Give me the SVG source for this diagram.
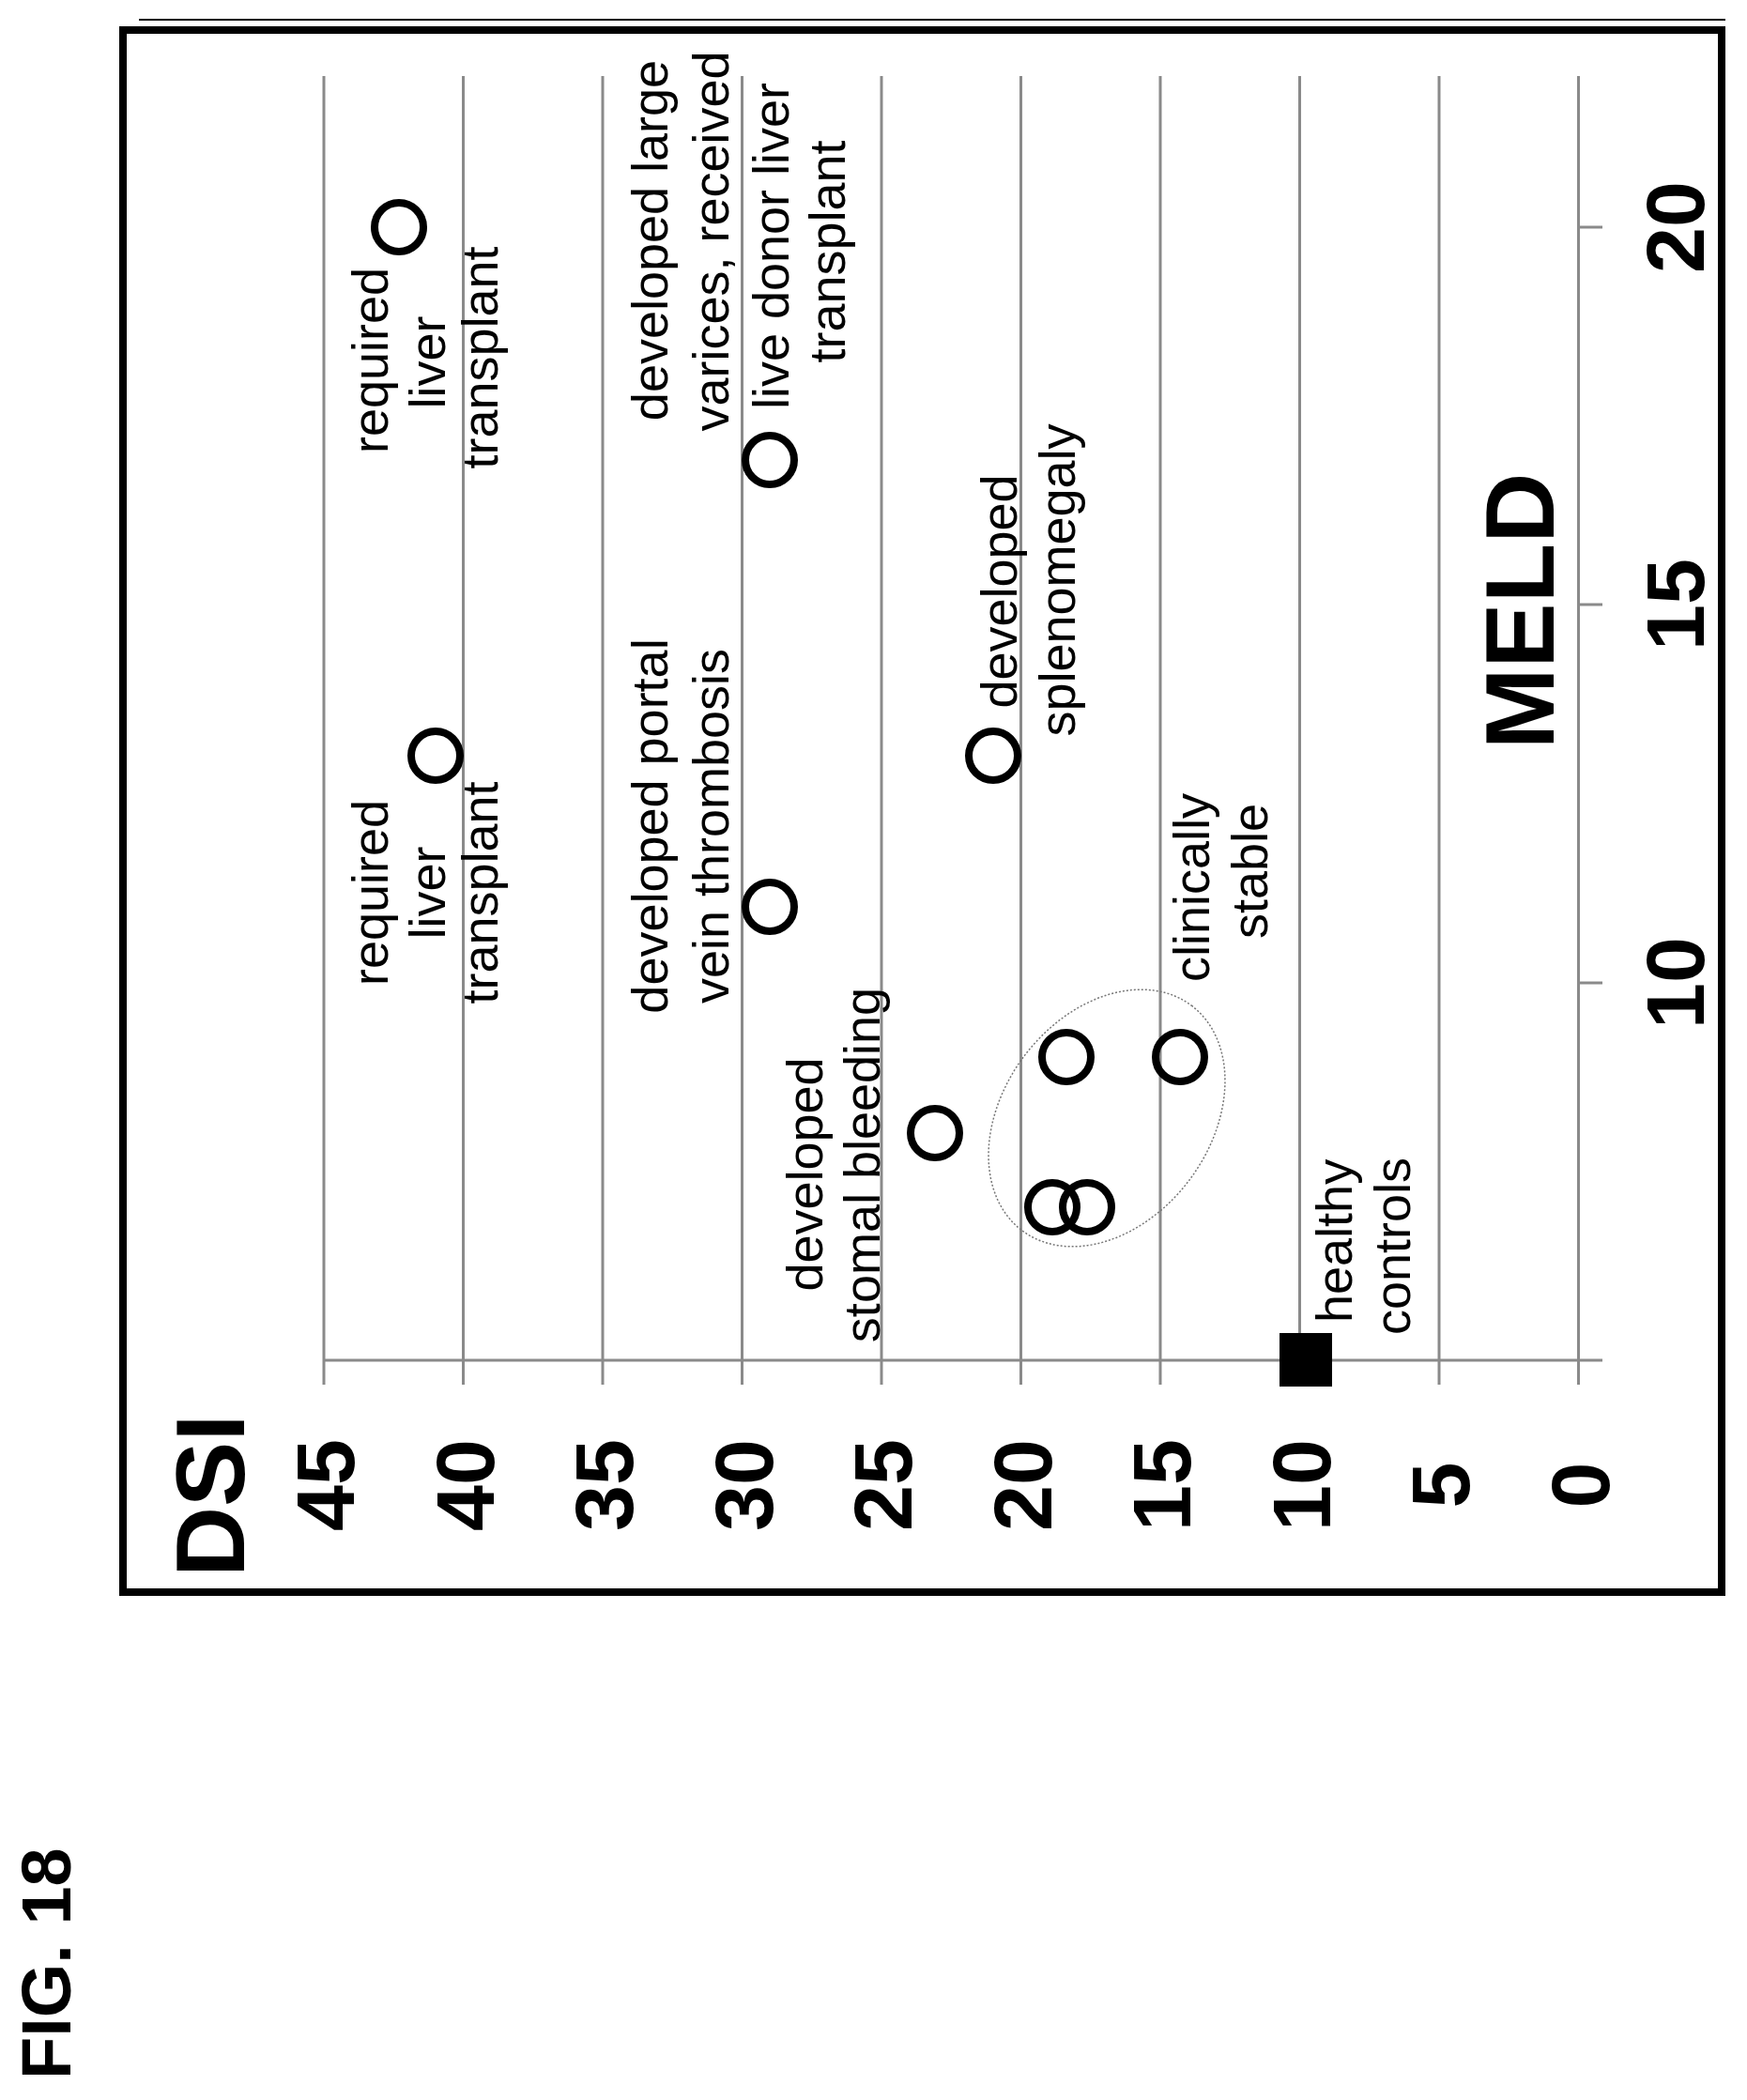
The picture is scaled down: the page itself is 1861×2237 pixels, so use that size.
<svg xmlns="http://www.w3.org/2000/svg" width="1861" height="2237" viewBox="0 0 1861 2237">
<style>
.g{stroke:#8a8a8a;stroke-width:3;fill:none}
.pt{fill:none;stroke:#000;stroke-width:8}
.lb{font-family:"Liberation Sans",Arial,sans-serif;font-size:54px;fill:#000;text-anchor:middle}
.st{text-anchor:start}
.tk{font-family:"Liberation Sans",Arial,sans-serif;font-size:88px;font-weight:bold;fill:#000;text-anchor:middle}
.ax{font-family:"Liberation Sans",Arial,sans-serif;font-size:104px;font-weight:bold;fill:#000}
</style>
<rect width="1861" height="2237" fill="#fff"/>
<line x1="148" y1="21" x2="1838" y2="21" stroke="#000" stroke-width="2"/>
<rect x="131" y="32" width="1703" height="1664" fill="none" stroke="#000" stroke-width="8"/>
<g id="grid">
<line class="g" x1="345" y1="81" x2="345" y2="1475"/>
<line class="g" x1="493.5" y1="81" x2="493.5" y2="1475"/>
<line class="g" x1="642" y1="81" x2="642" y2="1475"/>
<line class="g" x1="790.5" y1="81" x2="790.5" y2="1475"/>
<line class="g" x1="939" y1="81" x2="939" y2="1475"/>
<line class="g" x1="1087.5" y1="81" x2="1087.5" y2="1475"/>
<line class="g" x1="1236" y1="81" x2="1236" y2="1475"/>
<line class="g" x1="1384.5" y1="81" x2="1384.5" y2="1475"/>
<line class="g" x1="1533" y1="81" x2="1533" y2="1475"/>
<line class="g" x1="1681.5" y1="81" x2="1681.5" y2="1475"/>
<line class="g" x1="345" y1="1449" x2="1707" y2="1449"/>
<line class="g" x1="1681.5" y1="1047" x2="1707" y2="1047"/>
<line class="g" x1="1681.5" y1="644" x2="1707" y2="644"/>
<line class="g" x1="1681.5" y1="242" x2="1707" y2="242"/>
</g>
<g id="dsi-ticks">
<text class="tk" transform="translate(377,1582) rotate(-90)">45</text>
<text class="tk" transform="translate(525.5,1582) rotate(-90)">40</text>
<text class="tk" transform="translate(674,1582) rotate(-90)">35</text>
<text class="tk" transform="translate(822.5,1582) rotate(-90)">30</text>
<text class="tk" transform="translate(971,1582) rotate(-90)">25</text>
<text class="tk" transform="translate(1119.5,1582) rotate(-90)">20</text>
<text class="tk" transform="translate(1268,1582) rotate(-90)">15</text>
<text class="tk" transform="translate(1416.5,1582) rotate(-90)">10</text>
<text class="tk" transform="translate(1565,1582) rotate(-90)">5</text>
<text class="tk" transform="translate(1713.5,1582) rotate(-90)">0</text>
<text class="ax" transform="translate(260,1680) rotate(-90)">DSI</text>
</g>
<g id="meld-ticks">
<text class="tk" transform="translate(1815,1047) rotate(-90)">10</text>
<text class="tk" transform="translate(1815,644) rotate(-90)">15</text>
<text class="tk" transform="translate(1815,242) rotate(-90)">20</text>
<text class="ax" transform="translate(1655,651) rotate(-90)" text-anchor="middle">MELD</text>
</g>
<g id="points">
<circle class="pt" cx="425" cy="242" r="26"/>
<circle class="pt" cx="820" cy="490" r="26"/>
<circle class="pt" cx="464" cy="805" r="26"/>
<circle class="pt" cx="820" cy="966" r="26"/>
<circle class="pt" cx="1058" cy="805" r="26"/>
<circle class="pt" cx="996" cy="1207" r="26"/>
<circle class="pt" cx="1136" cy="1126" r="26"/>
<circle class="pt" cx="1257" cy="1126" r="26"/>
<circle class="pt" cx="1121" cy="1286" r="26"/>
<circle class="pt" cx="1158" cy="1286" r="26"/>
<rect id="healthy-marker" x="1363" y="1420" width="56" height="57" fill="#000"/>
<ellipse cx="1179" cy="1191" rx="150" ry="110" transform="rotate(-53 1179 1191)" fill="none" stroke="#777" stroke-width="1.5" stroke-dasharray="2 2"/>
</g>
<g id="labels">
<text class="lb" transform="translate(413,384) rotate(-90)">required</text>
<text class="lb" transform="translate(474,386) rotate(-90)">liver</text>
<text class="lb" transform="translate(530,381) rotate(-90)">transplant</text>
<text class="lb" transform="translate(413,951) rotate(-90)">required</text>
<text class="lb" transform="translate(474,951) rotate(-90)">liver</text>
<text class="lb" transform="translate(530,951) rotate(-90)">transplant</text>
<text class="lb" transform="translate(711,256) rotate(-90)">developed large</text>
<text class="lb" transform="translate(776,257) rotate(-90)">varices, received</text>
<text class="lb" transform="translate(840,262) rotate(-90)">live donor liver</text>
<text class="lb" transform="translate(900,268) rotate(-90)">transplant</text>
<text class="lb" transform="translate(711,880) rotate(-90)">developed portal</text>
<text class="lb" transform="translate(776,880) rotate(-90)">vein thrombosis</text>
<text class="lb" transform="translate(1083,630) rotate(-90)">developed</text>
<text class="lb" transform="translate(1145,618) rotate(-90)">splenomegaly</text>
<text class="lb st" transform="translate(1288,1046) rotate(-90)">clinically</text>
<text class="lb" transform="translate(1350,928) rotate(-90)">stable</text>
<text class="lb" transform="translate(876,1251) rotate(-90)">developed</text>
<text class="lb" transform="translate(937,1241) rotate(-90)">stomal bleeding</text>
<text class="lb st" transform="translate(1440,1409) rotate(-90)">healthy</text>
<text class="lb st" transform="translate(1502,1422) rotate(-90)">controls</text>
</g>
<text class="ax" style="font-size:74px" transform="translate(75,2215) rotate(-90)">FIG. 18</text>
</svg>
